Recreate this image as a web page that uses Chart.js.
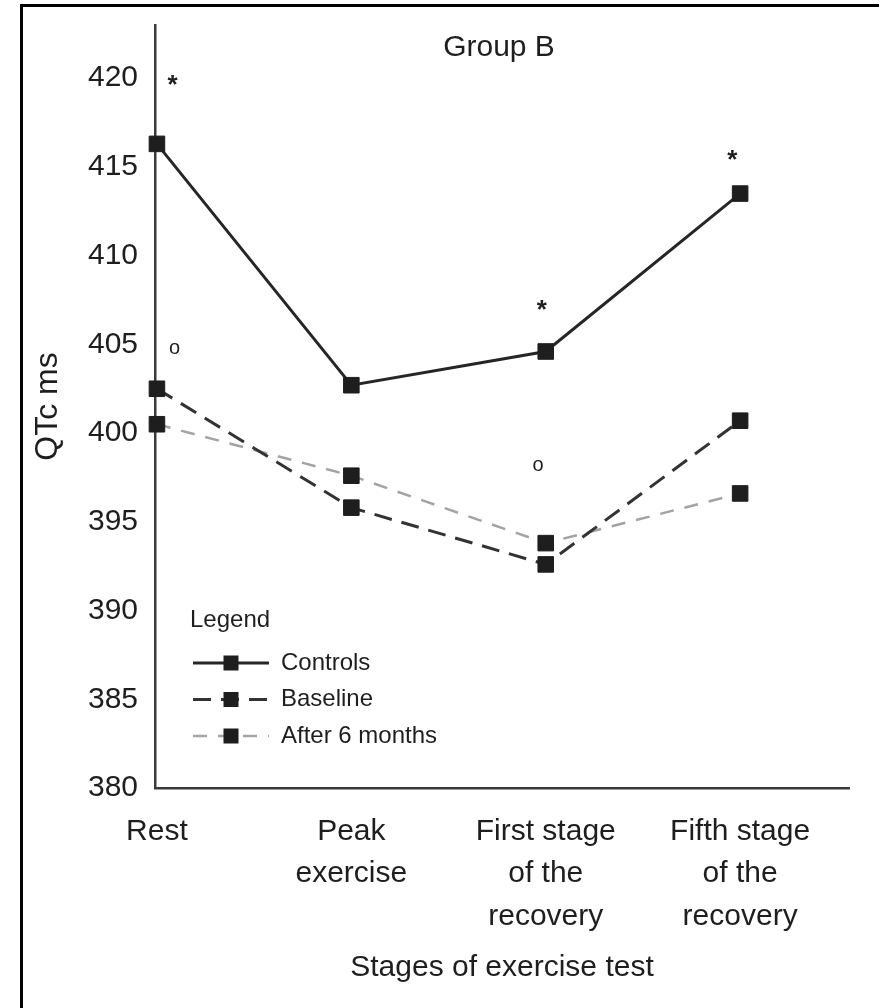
<!DOCTYPE html>
<html>
<head>
<meta charset="utf-8">
<title>QTc ms – Group B</title>
<script src="https://cdn.jsdelivr.net/npm/chart.js@4.4.1/dist/chart.umd.min.js"></script>
<style>
  html, body { margin: 0; padding: 0; background: #fff; }
  .frame { position: relative; width: 879px; height: 1008px; overflow: hidden; }
  .frame::before {
    content: ""; position: absolute; left: 20px; top: 4px; right: -10px; bottom: -10px;
    border-top: 3px solid #000; border-left: 3px solid #000;
  }
  canvas { position: absolute; left: 0; top: 0; }
</style>
</head>
<body>
<div class="frame"><canvas id="qtcChart" width="879" height="1008"></canvas></div>
<script>
// stages of the exercise test (x) and QTc values in ms (y)
const stages = [
  ["Rest"],
  ["Peak", "exercise"],
  ["First stage", "of the", "recovery"],
  ["Fifth stage", "of the", "recovery"],
];
const controls = [416.3, 402.7, 404.6, 413.5];
const baseline = [402.5, 395.8, 392.6, 400.7];
const after6Months = [400.5, 397.6, 393.8, 396.6];
const yTicks = [380, 385, 390, 395, 400, 405, 410, 415, 420];

// significance marks: * vs controls, o vs baseline
const starMarks = [
  { x: 0.08, y: 419.9 },
  { x: 1.98, y: 407.2 },
  { x: 2.96, y: 415.7 },
];
const circleMarks = [
  { x: 0.09, y: 404.75 },
  { x: 1.96, y: 398.2 },
];

const FONT = "'Liberation Sans', Arial, Helvetica, sans-serif";
const INK = "#1e1e1e";
Chart.defaults.font.family = FONT;
Chart.defaults.color = INK;

function toPoints(values) {
  return values.map((v, i) => ({ x: i, y: v }));
}

function series(label, values, color, width, dash) {
  return {
    label: label,
    data: toPoints(values),
    borderColor: color,
    borderWidth: width,
    borderDash: dash,
    pointStyle: "rect",
    pointRadius: 11,
    pointBorderWidth: 1,
    pointBackgroundColor: INK,
    pointBorderColor: INK,
    clip: false,
    tension: 0,
  };
}

// draws a glyph centred on a data position
function drawMark(ctx, text, px, py, font) {
  ctx.font = font;
  const m = ctx.measureText(text);
  const base = py - (m.actualBoundingBoxDescent - m.actualBoundingBoxAscent) / 2;
  ctx.fillText(text, px, base);
}

const extras = {
  id: "extras",
  afterDatasetsDraw(chart) {
    const { ctx, chartArea, scales } = chart;
    const x = scales.x, y = scales.y;
    ctx.save();
    ctx.fillStyle = INK;
    ctx.textAlign = "center";
    ctx.textBaseline = "alphabetic";

    starMarks.forEach((s) =>
      drawMark(ctx, "*", x.getPixelForValue(s.x), y.getPixelForValue(s.y), "bold 26px " + FONT));
    circleMarks.forEach((c) =>
      drawMark(ctx, "o", x.getPixelForValue(c.x), y.getPixelForValue(c.y), "20px " + FONT));

    // panel title
    ctx.textBaseline = "middle";
    ctx.font = "30px " + FONT;
    ctx.fillText("Group B", (chartArea.left + chartArea.right) / 2 - 3, chartArea.top + 23);

    // legend box, lower left of the plot
    const lx = chartArea.left;
    const ly = chartArea.bottom;
    ctx.textAlign = "left";
    ctx.font = "24px " + FONT;
    ctx.fillText("Legend", lx + 35, ly - 168);
    chart.data.datasets.forEach((ds, i) => {
      const yy = ly - 125 + i * 36.5;
      ctx.save();
      ctx.strokeStyle = ds.borderColor;
      ctx.lineWidth = ds.borderWidth;
      ctx.setLineDash(ds.borderDash || []);
      ctx.beginPath();
      ctx.moveTo(lx + 38, yy);
      ctx.lineTo(lx + 114, yy);
      ctx.stroke();
      ctx.restore();
      ctx.fillStyle = INK;
      ctx.fillRect(lx + 76 - 7.5, yy - 7.5, 15, 15);
      ctx.fillText(ds.label, lx + 126, yy);
    });
    ctx.restore();
  },
};

new Chart(document.getElementById("qtcChart"), {
  type: "line",
  data: {
    datasets: [
      series("Controls", controls, "#262626", 3, []),
      series("Baseline", baseline, "#333", 3, [18, 10]),
      series("After 6 months", after6Months, "#a3a3a3", 2.5, [14, 11]),
    ],
  },
  options: {
    responsive: false,
    animation: false,
    layout: { padding: { left: 28, right: 30, top: 25, bottom: 22 } },
    plugins: {
      legend: { display: false },
      tooltip: { enabled: false },
      title: { display: false },
    },
    scales: {
      x: {
        type: "linear",
        min: -0.01,
        max: 3.56,
        afterBuildTicks: (scale) => { scale.ticks = stages.map((_, i) => ({ value: i })); },
        afterFit: (scale) => { scale.height = 198; },
        grid: { display: false, drawTicks: false },
        border: { display: true, color: "#3a3a3a", width: 2.5 },
        ticks: {
          padding: 22,
          maxRotation: 0,
          minRotation: 0,
          autoSkip: false,
          color: INK,
          font: { size: 30, lineHeight: 1.42 },
          callback: (v) => stages[v],
        },
        title: {
          display: true,
          text: "Stages of exercise test",
          color: INK,
          font: { size: 30, lineHeight: 1.2 },
          padding: { top: 0, bottom: 0 },
        },
      },
      y: {
        min: 380,
        max: 423,
        afterBuildTicks: (scale) => { scale.ticks = yTicks.map((v) => ({ value: v })); },
        afterFit: (scale) => {
          scale.width = 127;
          // the axis line runs to the top of the plot; no extra room for the label
          scale.paddingTop = 0;
          scale.paddingBottom = 0;
        },
        grid: { display: false, drawTicks: false },
        border: { display: true, color: "#3a3a3a", width: 2.5 },
        ticks: {
          padding: 17,
          color: INK,
          font: { size: 30 },
        },
        title: {
          display: true,
          text: "QTc ms",
          color: INK,
          font: { size: 32, lineHeight: 1.2 },
          padding: { top: 1, bottom: 0 },
        },
      },
    },
  },
  plugins: [extras],
});
</script>
</body>
</html>
